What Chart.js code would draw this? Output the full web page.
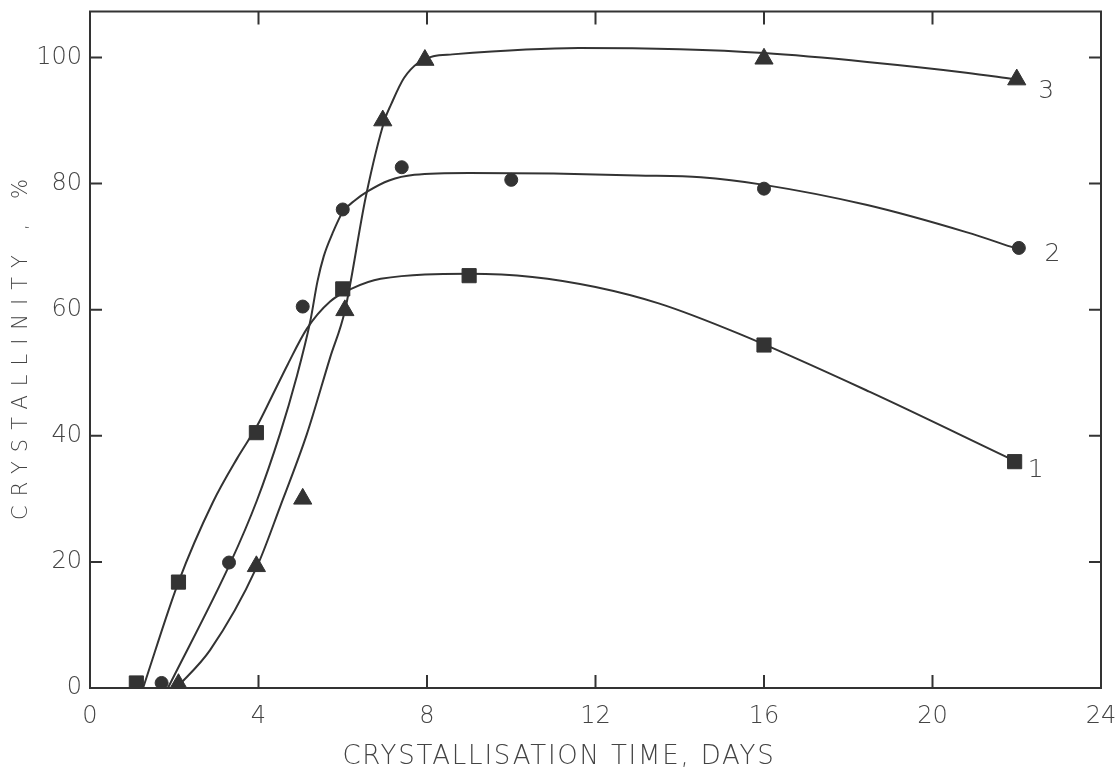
<!DOCTYPE html>
<html>
<head>
<meta charset="utf-8">
<title>Crystallinity vs crystallisation time</title>
<script src="https://cdn.jsdelivr.net/npm/chart.js@4.4.0/dist/chart.umd.min.js"></script>
<style>
    html, body { margin: 0; padding: 0; background: #fff; }
    #wrap { width: 1116px; height: 776px; position: relative; }
</style>
</head>
<body>
<div id="wrap"><canvas id="crystChart"></canvas></div>
<script>
// ===================================
// DATA
// ===================================

const xTicks = [0, 4, 8, 12, 16, 20, 24];
const yTicks = [0, 20, 40, 60, 80, 100];

// measured points
const days1 = [1.1, 2.1, 3.95, 6.0, 9.0, 16.0, 21.95];
const cryst1 = [0.8, 16.8, 40.5, 63.3, 65.4, 54.4, 35.9];

const days2 = [1.7, 3.3, 5.05, 6.0, 7.4, 10.0, 16.0, 22.05];
const cryst2 = [0.8, 19.9, 60.5, 75.9, 82.6, 80.6, 79.2, 69.8];

const days3 = [2.1, 3.95, 5.05, 6.05, 6.95, 7.95, 16.0, 22.0];
const cryst3 = [0.6, 19.3, 30.0, 59.9, 90.0, 99.6, 99.8, 96.5];

// hand-drawn fitted curves
const curveDays1 = [1.26, 2.1, 2.92, 3.5, 3.96, 4.3, 4.7, 5.15, 5.7, 6.2, 6.9, 9.0, 10.5, 12.0, 13.5, 15.4, 18.5, 21.8];
const curveCryst1 = [0, 16.8, 29.5, 36.5, 41.5, 46.0, 51.4, 57.0, 61.3, 63.3, 64.9, 65.7, 65.2, 63.6, 61.0, 56.2, 47.0, 36.5];

const curveDays2 = [1.85, 3.33, 3.96, 4.51, 4.9, 5.23, 5.4, 5.55, 5.75, 6.0, 6.3, 6.6, 7.1, 7.7, 9.0, 11.0, 13.0, 14.5, 16.0, 18.45, 20.8, 21.95];
const curveCryst2 = [0, 19.8, 29.7, 40.3, 49.2, 58.2, 64.5, 68.5, 72.0, 75.5, 77.4, 78.8, 80.5, 81.4, 81.7, 81.6, 81.3, 81.0, 79.8, 76.6, 72.3, 69.8];

const curveDays3 = [2.05, 2.85, 3.96, 4.51, 5.15, 5.7, 6.05, 6.55, 7.0, 7.15, 7.45, 7.8, 8.15, 8.6, 11.6, 14.0, 16.0, 18.45, 20.8, 21.9];
const curveCryst3 = [0, 6.0, 19.2, 28.7, 40.3, 52.4, 59.8, 78.0, 90.2, 92.6, 96.7, 99.2, 100.2, 100.5, 101.5, 101.3, 100.7, 99.3, 97.6, 96.6];

// curve numbers written next to the last points
const curveNames = ['1', '2', '3'];
const nameDays = [22.45, 22.85, 22.7];
const nameCryst = [34.5, 68.8, 94.6];

// ===================================
// STYLE
// ===================================

const ink = '#333333';
const textInk = '#444444';
const fontFamily = "'DejaVu Sans', 'Noto Sans', sans-serif";

function toPoints(xs, ys) {
    return xs.map((x, i) => ({ x: x, y: ys[i] }));
}

function pointSet(xs, ys, style, radius) {
    return {
        type: 'scatter',
        data: toPoints(xs, ys),
        pointStyle: style,
        pointRadius: radius,
        pointBackgroundColor: ink,
        pointBorderColor: ink,
        pointBorderWidth: 1,
        showLine: false
    };
}

function curveSet(xs, ys) {
    return {
        type: 'line',
        data: toPoints(xs, ys),
        borderColor: ink,
        borderWidth: 2,
        pointRadius: 0,
        fill: false,
        cubicInterpolationMode: 'monotone'
    };
}

// frame, inward ticks, titles and curve numbers
const decorPlugin = {
    id: 'decor',
    afterDraw(chart) {
        const { ctx, chartArea: a, scales: { x, y } } = chart;
        ctx.save();
        ctx.strokeStyle = ink;
        ctx.lineWidth = 2;
        ctx.strokeRect(a.left, a.top, a.right - a.left, a.bottom - a.top);

        ctx.beginPath();
        xTicks.slice(1, -1).forEach(v => {
            const px = x.getPixelForValue(v);
            ctx.moveTo(px, a.bottom); ctx.lineTo(px, a.bottom - 13);
            ctx.moveTo(px, a.top); ctx.lineTo(px, a.top + 13);
        });
        yTicks.slice(1).forEach(v => {
            const py = y.getPixelForValue(v);
            ctx.moveTo(a.left, py); ctx.lineTo(a.left + 12, py);
            ctx.moveTo(a.right, py); ctx.lineTo(a.right - 12, py);
        });
        ctx.stroke();

        ctx.fillStyle = textInk;
        ctx.textBaseline = 'middle';
        ctx.textAlign = 'center';
        ctx.font = '200 26px ' + fontFamily;
        ctx.letterSpacing = '1.8px';
        ctx.fillText('CRYSTALLISATION TIME, DAYS', 559, 757);

        ctx.save();
        ctx.translate(22, 345);
        ctx.rotate(-Math.PI / 2);
        ctx.font = '200 21px ' + fontFamily;
        ctx.letterSpacing = '9px';
        ctx.fillText('CRYSTALLINITY , %', 0, 0);
        ctx.restore();

        ctx.font = '200 25px ' + fontFamily;
        ctx.letterSpacing = '0px';
        curveNames.forEach((name, i) => {
            ctx.fillText(name, x.getPixelForValue(nameDays[i]), y.getPixelForValue(nameCryst[i]));
        });
        ctx.restore();
    }
};

// ===================================
// CHART
// ===================================

document.addEventListener('DOMContentLoaded', () => {
    Chart.defaults.font.family = fontFamily;
    Chart.defaults.color = textInk;

    new Chart(document.getElementById('crystChart').getContext('2d'), {
        type: 'scatter',
        data: {
            datasets: [
                pointSet(days1, cryst1, 'rect', 10),
                pointSet(days2, cryst2, 'circle', 6.5),
                pointSet(days3, cryst3, 'triangle', 10.5),
                curveSet(curveDays1, curveCryst1),
                curveSet(curveDays2, curveCryst2),
                curveSet(curveDays3, curveCryst3)
            ]
        },
        options: {
            responsive: true,
            maintainAspectRatio: false,
            animation: false,
            layout: { padding: 0 },
            scales: {
                x: {
                    type: 'linear',
                    min: 0,
                    max: 24,
                    afterFit: s => {
                        s.height = 88;
                        s.paddingLeft = 0;
                        s.paddingRight = 15;
                    },
                    afterBuildTicks: s => { s.ticks = xTicks.map(v => ({ value: v })); },
                    grid: { display: false, drawTicks: false },
                    border: { display: false },
                    ticks: { padding: 14, color: textInk, font: { size: 24, weight: 200 }, maxRotation: 0 }
                },
                y: {
                    type: 'linear',
                    min: 0,
                    max: 107.3,
                    afterFit: s => {
                        s.width = 90;
                        s.paddingTop = 10;
                        s.paddingBottom = 0;
                    },
                    afterBuildTicks: s => { s.ticks = yTicks.map(v => ({ value: v })); },
                    grid: { display: false, drawTicks: false },
                    border: { display: false },
                    ticks: { padding: 8, color: textInk, font: { size: 24, weight: 200 } }
                }
            },
            plugins: {
                legend: { display: false },
                tooltip: { enabled: false }
            }
        },
        plugins: [decorPlugin]
    });
});
</script>
</body>
</html>
